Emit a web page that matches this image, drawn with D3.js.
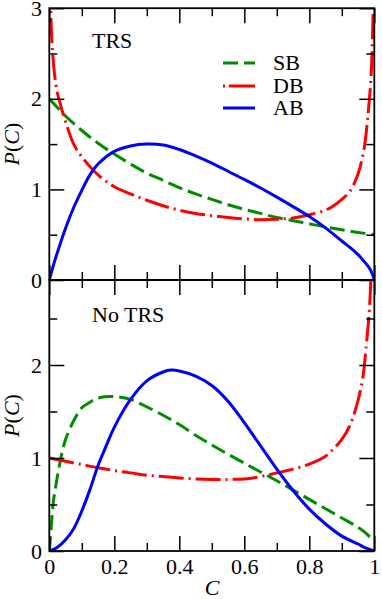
<!DOCTYPE html>
<html>
<head>
<meta charset="utf-8">
<script src="https://cdn.jsdelivr.net/npm/d3@7"></script>
<style>
body { margin: 0; background: #fff; }
svg text { font-family: 'Liberation Serif', 'Times New Roman', Times, serif; font-size: 22px; }
</style>
</head>
<body>
<div id="chart"></div>
<script>
// values, C -> P(C)
var trsSbC = [0, 0.05, 0.1, 0.15, 0.2, 0.25, 0.3, 0.35, 0.4, 0.45, 0.5, 0.55, 0.6, 0.65, 0.7, 0.75, 0.8, 0.85, 0.9, 0.95, 1];
var trsSbP = [2.0, 1.81, 1.65, 1.51, 1.39, 1.28, 1.18, 1.10, 1.02, 0.95, 0.89, 0.83, 0.78, 0.735, 0.69, 0.655, 0.62, 0.585, 0.555, 0.525, 0.5];

var trsDbC = [0.002, 0.005, 0.01, 0.02, 0.03, 0.05, 0.075, 0.1, 0.15, 0.2, 0.25, 0.3, 0.35, 0.4, 0.45, 0.5, 0.55, 0.6, 0.65, 0.7, 0.75, 0.8, 0.85, 0.875, 0.9, 0.925, 0.95, 0.96, 0.97, 0.98, 0.99, 0.995, 0.998];
var trsDbP = [3.3, 2.9, 2.52, 2.16, 1.99, 1.75, 1.50, 1.36, 1.16, 1.03, 0.95, 0.88, 0.82, 0.77, 0.735, 0.71, 0.69, 0.675, 0.665, 0.67, 0.685, 0.72, 0.77, 0.82, 0.89, 0.98, 1.17, 1.30, 1.48, 1.80, 2.25, 2.75, 3.3];

var trsAbC = [0, 0.01, 0.02, 0.03, 0.05, 0.075, 0.1, 0.125, 0.15, 0.2, 0.25, 0.3, 0.35, 0.4, 0.45, 0.5, 0.55, 0.6, 0.65, 0.7, 0.75, 0.8, 0.85, 0.9, 0.925, 0.95, 0.97, 0.98, 0.99, 1];
var trsAbP = [0, 0.13, 0.25, 0.36, 0.57, 0.80, 0.99, 1.16, 1.28, 1.42, 1.48, 1.50, 1.49, 1.44, 1.37, 1.29, 1.20, 1.11, 1.015, 0.915, 0.81, 0.70, 0.575, 0.43, 0.36, 0.28, 0.20, 0.155, 0.10, 0];

var noSbC = [0, 0.003, 0.0075, 0.0125, 0.02, 0.03, 0.04, 0.05, 0.075, 0.1, 0.125, 0.15, 0.2, 0.25, 0.3, 0.35, 0.4, 0.45, 0.5, 0.55, 0.6, 0.65, 0.7, 0.75, 0.8, 0.85, 0.9, 0.95, 0.975, 1];
var noSbP = [0, 0.12, 0.33, 0.53, 0.70, 0.90, 1.07, 1.20, 1.40, 1.54, 1.60, 1.645, 1.66, 1.63, 1.55, 1.46, 1.36, 1.245, 1.14, 1.04, 0.945, 0.85, 0.755, 0.655, 0.555, 0.455, 0.355, 0.255, 0.19, 0.1];

var noDbC = [0, 0.05, 0.1, 0.15, 0.2, 0.25, 0.3, 0.35, 0.4, 0.45, 0.5, 0.55, 0.6, 0.65, 0.7, 0.75, 0.8, 0.85, 0.875, 0.9, 0.925, 0.95, 0.965, 0.975, 0.98, 0.985, 0.99, 0.995];
var noDbP = [1.0, 0.965, 0.93, 0.895, 0.865, 0.84, 0.815, 0.80, 0.785, 0.775, 0.77, 0.77, 0.775, 0.80, 0.84, 0.88, 0.935, 1.02, 1.10, 1.20, 1.35, 1.62, 1.87, 2.2, 2.38, 2.6, 2.95, 3.5];

var noAbC = [0, 0.025, 0.05, 0.075, 0.1, 0.125, 0.15, 0.175, 0.2, 0.25, 0.3, 0.35, 0.375, 0.4, 0.45, 0.5, 0.55, 0.6, 0.65, 0.7, 0.75, 0.8, 0.85, 0.9, 0.95, 0.975, 1];
var noAbP = [0, 0.04, 0.12, 0.24, 0.43, 0.66, 0.92, 1.13, 1.33, 1.63, 1.83, 1.925, 1.945, 1.935, 1.88, 1.78, 1.61, 1.38, 1.13, 0.88, 0.65, 0.45, 0.29, 0.16, 0.075, 0.03, 0];

var seriesNames = ['SB', 'DB', 'AB'];
var panelTitles = ['TRS', 'No TRS'];
var xTicks = [0, 0.2, 0.4, 0.6, 0.8, 1];
var xTickLabels = ['0', '0.2', '0.4', '0.6', '0.8', '1'];
var xMinor = [0.1, 0.3, 0.5, 0.7, 0.9];
var yTicksTop = [0, 1, 2, 3];
var yTicksBottom = [0, 1, 2];
var yMinor = [0.5, 1.5, 2.5];

var colors = ['#008c00', '#ff0000', '#0000ff'];
var dashes = ['15 6', '25 5 2 5', null];

window.onload = function() {
    render();
};

function render() {
    var svg = d3.select('#chart').append('svg')
        .attr('width', 382)
        .attr('height', 599);

    var x = d3.scaleLinear().domain([0, 1]).range([49.3, 374.3]);

    var yTop = d3.scaleLinear().domain([0, 3]).range([280, 8.2]);
    var yBottom = d3.scaleLinear().domain([0, 2.914]).range([551, 280]);

    makePanel(svg, 0, x, yTop, yTicksTop, false,
        [[trsSbC, trsSbP], [trsDbC, trsDbP], [trsAbC, trsAbP]]);
    makePanel(svg, 1, x, yBottom, yTicksBottom, true,
        [[noSbC, noSbP], [noDbC, noDbP], [noAbC, noAbP]]);

    makeLegend(svg);

    // x axis title
    svg.append('text')
        .attr('x', 212)
        .attr('y', 595)
        .style('font-style', 'italic')
        .style('text-anchor', 'middle')
        .text('C');
}

function addAxis(svg, axis, tx, ty, values, size, labels) {
    var g = svg.append('g')
        .attr('transform', 'translate(' + tx + ',' + ty + ')')
        .call(axis.tickValues(values)
            .tickSizeInner(size)
            .tickSizeOuter(0)
            .tickPadding(7.4)
            .tickFormat(labels || ''));
    g.select('.domain').remove();
    g.attr('font-family', null).attr('font-size', null);
    g.selectAll('line').attr('stroke-width', 1.5);
    g.selectAll('text').attr('fill', '#000');
    return g;
}

function makePanel(svg, index, x, y, yTicks, xLabels, series) {
    var x0 = x.range()[0], x1 = x.range()[1];
    var yb = y.range()[0], yt = y.range()[1];

    var clipId = 'clip' + index;
    svg.append('clipPath').attr('id', clipId)
        .append('rect')
        .attr('x', x0).attr('y', yt)
        .attr('width', x1 - x0).attr('height', yb - yt);

    var line = d3.line()
        .x(function(d) { return x(d[0]); })
        .y(function(d) { return y(d[1]); })
        .curve(d3.curveCatmullRom.alpha(0.5));

    var plot = svg.append('g').attr('clip-path', 'url(#' + clipId + ')');
    for (var i = 0; i < series.length; i++) {
        var pts = series[i][0].map(function(c, j) { return [c, series[i][1][j]]; });
        plot.append('path')
            .attr('d', line(pts))
            .attr('fill', 'none')
            .attr('stroke', colors[i])
            .attr('stroke-width', 3)
            .attr('stroke-dasharray', dashes[i]);
    }

    // frame
    svg.append('rect')
        .attr('x', x0).attr('y', yt)
        .attr('width', x1 - x0).attr('height', yb - yt)
        .attr('fill', 'none')
        .attr('stroke', '#000')
        .attr('stroke-width', 1.8);

    // inward ticks on all four sides
    var xl = xLabels ? function(d, i) { return xTickLabels[i]; } : null;
    addAxis(svg, d3.axisBottom(x), 0, yb, xTicks, -15, xl);
    addAxis(svg, d3.axisBottom(x), 0, yb, xMinor, -8, null);
    addAxis(svg, d3.axisTop(x), 0, yt, xTicks, -15, null);
    addAxis(svg, d3.axisTop(x), 0, yt, xMinor, -8, null);

    var yl = function(d) { return String(d); };
    addAxis(svg, d3.axisLeft(y), x0, 0, yTicks, -15, yl);
    addAxis(svg, d3.axisLeft(y), x0, 0, yMinor, -8, null);
    addAxis(svg, d3.axisRight(y), x1, 0, yTicks, -15, null);
    addAxis(svg, d3.axisRight(y), x1, 0, yMinor, -8, null);

    // y axis title P(C)
    var title = svg.append('text')
        .attr('transform', 'translate(19,' + ((yb + yt) / 2) + ') rotate(-90)')
        .style('text-anchor', 'middle');
    title.append('tspan').style('font-style', 'italic').text('P');
    title.append('tspan').text('(');
    title.append('tspan').style('font-style', 'italic').text('C');
    title.append('tspan').text(')');

    // panel label
    svg.append('text')
        .attr('x', 92)
        .attr('y', index == 0 ? 48 : 322)
        .text(panelTitles[index]);
}

function makeLegend(svg) {
    var rows = [63, 86, 108];
    for (var i = 0; i < seriesNames.length; i++) {
        svg.append('line')
            .attr('x1', 223).attr('x2', 255)
            .attr('y1', rows[i]).attr('y2', rows[i])
            .attr('stroke', colors[i])
            .attr('stroke-width', 3)
            .attr('stroke-dasharray', i == 1 ? '2 4 26 10' : dashes[i]);
        svg.append('text')
            .attr('x', 273)
            .attr('y', rows[i] + 7)
            .text(seriesNames[i]);
    }
}
</script>
</body>
</html>
